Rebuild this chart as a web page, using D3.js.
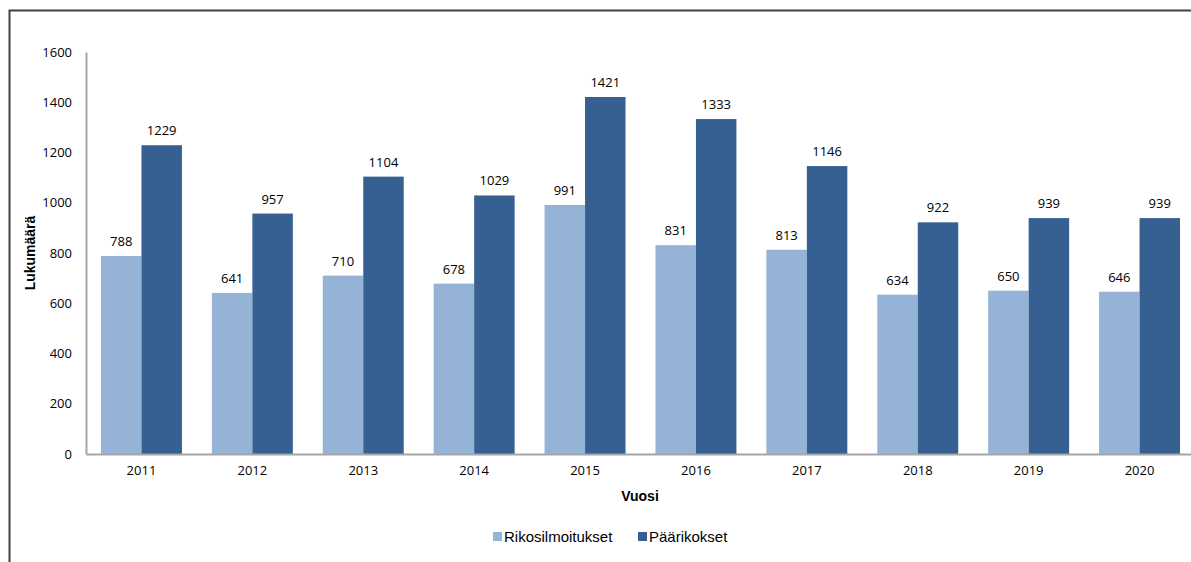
<!DOCTYPE html>
<html>
<head>
<meta charset="utf-8">
<script src="https://cdn.jsdelivr.net/npm/d3@7"></script>
<style>
  body { margin: 0; background: #fff; }
  svg { display: block; }
</style>
</head>
<body>
<div id="chart"></div>
<script>
// Chart data
const years = ["2011", "2012", "2013", "2014", "2015", "2016", "2017", "2018", "2019", "2020"];
const seriesNames = ["Rikosilmoitukset", "Päärikokset"];
const rikosilmoitukset = [788, 641, 710, 678, 991, 831, 813, 634, 650, 646];
const paarikokset = [1229, 957, 1104, 1029, 1421, 1333, 1146, 922, 939, 939];
const yTicks = [0, 200, 400, 600, 800, 1000, 1200, 1400, 1600];

const colors = ["#95b3d7", "#366092"];

function createChart() {
  const width = 1191,
    height = 562;
  const margin = { top: 52, right: -4, bottom: 108, left: 86 };

  const svg = d3
    .select("#chart")
    .append("svg")
    .attr("width", width)
    .attr("height", height);

  // Outer frame (left and top edges)
  svg.append("path")
    .attr("d", `M9.5,${height} V10.5 H${width}`)
    .attr("fill", "none")
    .attr("stroke", "#404040")
    .attr("stroke-width", 2);

  const xScale = d3
    .scaleBand()
    .domain(years)
    .range([margin.left, width - margin.right])
    .paddingInner(0.27)
    .paddingOuter(0.135);

  const xSub = d3
    .scaleBand()
    .domain(seriesNames)
    .range([0, xScale.bandwidth()]);

  const yScale = d3
    .scaleLinear()
    .domain([0, 1600])
    .range([height - margin.bottom, margin.top]);

  const rows = years.map((y, i) => ({
    year: y,
    values: [
      { name: seriesNames[0], value: rikosilmoitukset[i] },
      { name: seriesNames[1], value: paarikokset[i] },
    ],
  }));

  const groups = svg
    .selectAll(".group")
    .data(rows)
    .enter()
    .append("g")
    .attr("class", "group")
    .attr("transform", (d) => `translate(${xScale(d.year)},0)`);

  groups
    .selectAll("rect")
    .data((d) => d.values)
    .enter()
    .append("rect")
    .attr("x", (d) => xSub(d.name))
    .attr("y", (d) => yScale(d.value))
    .attr("width", xSub.bandwidth())
    .attr("height", (d) => yScale(0) - yScale(d.value))
    .attr("fill", (d, i) => colors[i]);

  groups
    .selectAll(".val")
    .data((d) => d.values)
    .enter()
    .append("text")
    .attr("class", "val")
    .attr("x", (d) => xSub(d.name) + xSub.bandwidth() / 2)
    .attr("y", (d) => yScale(d.value) - 10)
    .attr("text-anchor", "middle")
    .style("font-family", "'Open Sans', sans-serif")
    .style("font-size", "13px")
    .attr("fill", "#000")
    .text((d) => d.value);

  // Y axis
  const yAxis = svg
    .append("g")
    .attr("transform", `translate(${margin.left},0)`)
    .call(
      d3.axisLeft(yScale)
        .tickValues(yTicks)
        .tickFormat(d3.format("d"))
        .tickSize(0)
        .tickPadding(14)
    );
  yAxis.select(".domain").attr("stroke", "#a6a6a6").attr("stroke-width", 2);
  yAxis.selectAll("text")
    .style("font-family", "'Open Sans', sans-serif")
    .style("font-size", "13px")
    .attr("fill", "#000");

  // X axis
  const xAxis = svg
    .append("g")
    .attr("transform", `translate(0,${yScale(0)})`)
    .call(d3.axisBottom(xScale).tickSize(0).tickPadding(12));
  xAxis.select(".domain").attr("stroke", "#a6a6a6").attr("stroke-width", 2);
  xAxis.selectAll("text")
    .style("font-family", "'Open Sans', sans-serif")
    .style("font-size", "13px")
    .attr("fill", "#000");

  // Axis titles
  svg.append("text")
    .attr("x", 640)
    .attr("y", 501)
    .attr("text-anchor", "middle")
    .style("font-family", "'Liberation Sans', Arial, sans-serif")
    .style("font-size", "14px")
    .style("font-weight", "bold")
    .text("Vuosi");

  svg.append("text")
    .attr("transform", `translate(35,${(yScale(0) + yScale(1600)) / 2}) rotate(-90)`)
    .attr("text-anchor", "middle")
    .style("font-family", "'Liberation Sans', Arial, sans-serif")
    .style("font-size", "14px")
    .style("font-weight", "bold")
    .text("Lukumäärä");

  // Legend
  const legendX = [493, 638];
  const legend = svg
    .selectAll(".legend-item")
    .data(seriesNames)
    .enter()
    .append("g")
    .attr("class", "legend-item")
    .attr("transform", (d, i) => `translate(${legendX[i]},537)`);

  legend.append("rect")
    .attr("x", 0)
    .attr("y", -5)
    .attr("width", 9)
    .attr("height", 9)
    .attr("fill", (d, i) => colors[i]);

  legend.append("text")
    .attr("x", 11)
    .attr("y", 5)
    .style("font-family", "'Liberation Sans', Arial, sans-serif")
    .style("font-size", "15px")
    .text((d) => d);
}

createChart();
</script>
</body>
</html>
